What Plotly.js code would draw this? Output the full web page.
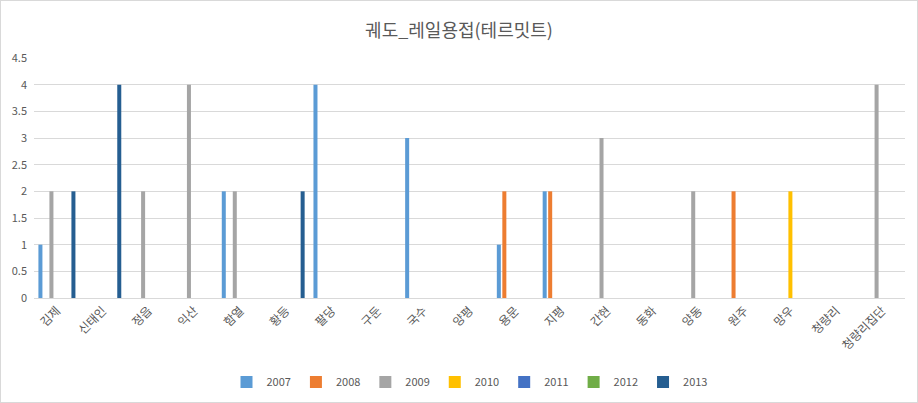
<!DOCTYPE html>
<html>
<head>
<meta charset="utf-8">
<script src="https://cdn.plot.ly/plotly-3.0.1.min.js"></script>
<style>
  body { margin: 0; background: #fff; }
  #frame { width: 916px; height: 401px; border: 1px solid #D9D9D9; }
</style>
</head>
<body>
<div id="frame"><div id="chart" style="width:916px;height:401px;"></div></div>
<script>
"use strict";

/****** data ******/
var stations = ['김제', '신태인', '정읍', '익산', '함열', '황등', '팔당', '구둔', '국수', '양평',
                '용문', '지평', '간현', '동화', '양동', '원주', '망우', '청량리', '청량리집단'];
var years = ['2007', '2008', '2009', '2010', '2011', '2012', '2013'];

var y2007 = [1, 0, 0, 0, 2, 0, 4, 0, 3, 0, 1, 2, 0, 0, 0, 0, 0, 0, 0];
var y2008 = [0, 0, 0, 0, 0, 0, 0, 0, 0, 0, 2, 2, 0, 0, 0, 2, 0, 0, 0];
var y2009 = [2, 0, 2, 4, 2, 0, 0, 0, 0, 0, 0, 0, 3, 0, 2, 0, 0, 0, 4];
var y2010 = [0, 0, 0, 0, 0, 0, 0, 0, 0, 0, 0, 0, 0, 0, 0, 0, 2, 0, 0];
var y2011 = [0, 0, 0, 0, 0, 0, 0, 0, 0, 0, 0, 0, 0, 0, 0, 0, 0, 0, 0];
var y2012 = [0, 0, 0, 0, 0, 0, 0, 0, 0, 0, 0, 0, 0, 0, 0, 0, 0, 0, 0];
var y2013 = [2, 4, 0, 0, 0, 2, 0, 0, 0, 0, 0, 0, 0, 0, 0, 0, 0, 0, 0];

var seriesValues = [y2007, y2008, y2009, y2010, y2011, y2012, y2013];
var colors = ['#5B9BD5', '#ED7D31', '#A5A5A5', '#FFC000', '#4472C4', '#70AD47', '#255E91'];

/****** build traces ******/
var data = years.map(function (yr, i) {
  return {
    x: stations,
    y: seriesValues[i],
    name: yr,
    type: 'bar',
    marker: { color: colors[i], line: { width: 0 } },
    hoverinfo: 'x+y+name'
  };
});

var font = 'Malgun Gothic, "Noto Sans CJK KR", sans-serif';

var layout = {
  width: 916,
  height: 401,
  title: {
    text: '궤도_레일용접(테르밋트)',
    font: { family: font, size: 18, color: '#595959' },
    x: 0.5, xanchor: 'center',
    y: 0.925, yanchor: 'middle'
  },
  font: { family: font, color: '#595959', size: 12 },
  paper_bgcolor: '#fff',
  plot_bgcolor: '#fff',
  margin: { l: 33, r: 12, t: 57, b: 104 },
  barmode: 'group',
  bargap: 0.16,
  bargroupgap: 0.27,
  xaxis: {
    type: 'category',
    automargin: false,
    tickangle: -45,
    tickfont: { size: 12, color: '#595959' },
    showline: true,
    linecolor: '#D9D9D9',
    linewidth: 1,
    ticks: '',
    showgrid: false
  },
  yaxis: {
    automargin: false,
    range: [0, 4.5],
    dtick: 0.5,
    tickfont: { size: 11, color: '#595959' },
    gridcolor: '#D9D9D9',
    gridwidth: 1,
    zeroline: false,
    showline: false,
    ticks: '',
    ticklabelstandoff: 6
  },
  showlegend: true,
  legend: {
    orientation: 'h',
    x: 0.5, xanchor: 'center',
    yref: 'container',
    y: 0.05, yanchor: 'middle',
    font: { size: 11, color: '#595959' },
    traceorder: 'normal',
    itemwidth: 30
  }
};

Plotly.newPlot('chart', data, layout, { displayModeBar: false });
</script>
</body>
</html>
